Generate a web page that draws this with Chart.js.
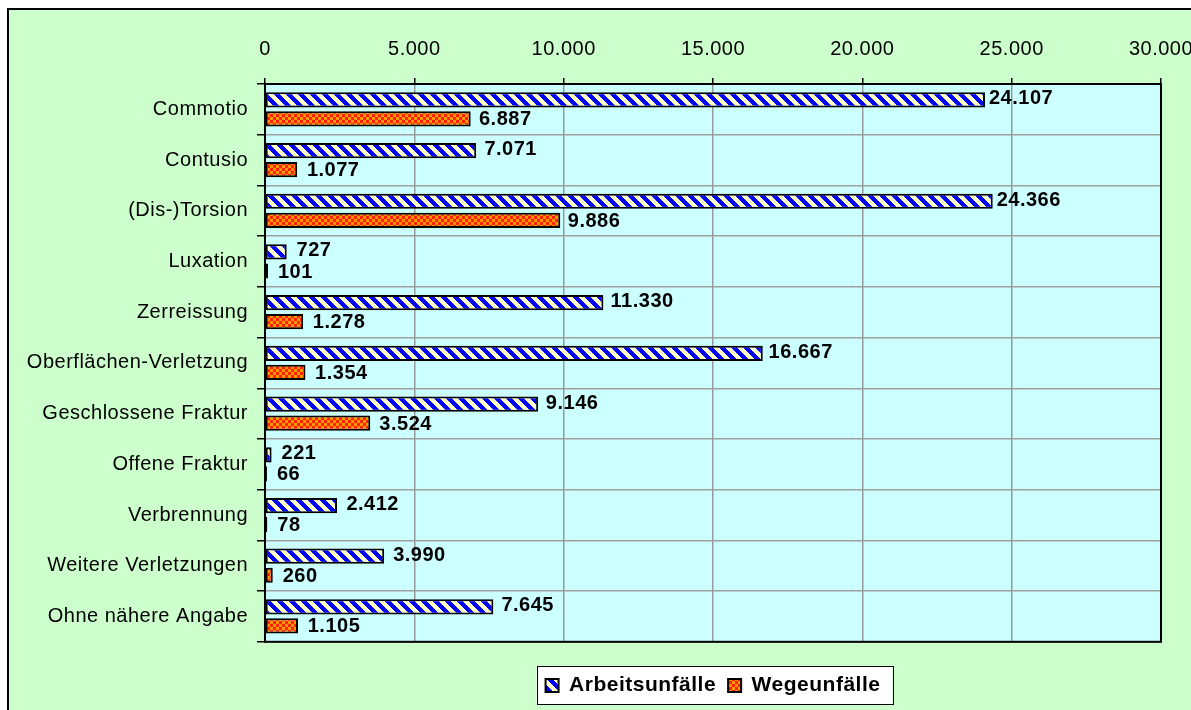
<!DOCTYPE html>
<html>
<head>
<meta charset="utf-8">
<script src="https://cdn.jsdelivr.net/npm/chart.js@4/dist/chart.umd.min.js"></script>
<style>
  html, body { margin: 0; padding: 0; background: #fff; overflow: hidden; }
  .frame {
    position: absolute; left: 7px; top: 8px; width: 1300px; height: 800px;
    background: #CCFFCC; border: 2px solid #000;
  }
  #chart { position: absolute; left: 0; top: 0; }
</style>
</head>
<body>
<div class="frame"></div>
<canvas id="chart" width="1240" height="712"></canvas>
<script>
// Verletzungsarten - Arbeitsunfälle vs. Wegeunfälle
const categories = [
    'Commotio', 'Contusio', '(Dis-)Torsion', 'Luxation', 'Zerreissung',
    'Oberflächen-Verletzung', 'Geschlossene Fraktur', 'Offene Fraktur',
    'Verbrennung', 'Weitere Verletzungen', 'Ohne nähere Angabe'
];
const arbeitsunfaelle = [24107, 7071, 24366, 727, 11330, 16667, 9146, 221, 2412, 3990, 7645];
const wegeunfaelle = [6887, 1077, 9886, 101, 1278, 1354, 3524, 66, 78, 260, 1105];
const seriesNames = ['Arbeitsunfälle', 'Wegeunfälle'];
const axisMin = 0;
const axisMax = 30000;
const axisStep = 5000;

const FONT = 'Arial, "Liberation Sans", sans-serif';

/**
 * German thousands separator
 */
function fmt(n) {
    return String(n).replace(/\B(?=(\d{3})+(?!\d))/g, '.');
}

/**
 * Excel-like fill patterns
 */
function stripePattern() {
    const n = 12;
    const c = document.createElement('canvas');
    c.width = n; c.height = n;
    const g = c.getContext('2d');
    g.fillStyle = '#FFFFCC';
    g.fillRect(0, 0, n, n);
    g.fillStyle = '#0000FF';
    for (let y = 0; y < n; y++) {
        for (let x = 0; x < n; x++) {
            if (((x - y) % n + n) % n < 6) g.fillRect(x, y, 1, 1);
        }
    }
    return g.createPattern(c, 'repeat');
}

function checkPattern() {
    const c = document.createElement('canvas');
    c.width = 6; c.height = 6;
    const g = c.getContext('2d');
    g.fillStyle = '#FF9900';
    g.fillRect(0, 0, 6, 6);
    g.fillStyle = '#FF2200';
    g.fillRect(0, 0, 3, 3);
    g.fillRect(3, 3, 3, 3);
    return g.createPattern(c, 'repeat');
}

// letter spacing like the GDI rendering of the original
const spacingPlugin = {
    id: 'spacing',
    beforeLayout(chart) { chart.ctx.letterSpacing = '0.5px'; },
    beforeDraw(chart) { chart.ctx.letterSpacing = '0.5px'; }
};

// plot background + legend box
const backgroundPlugin = {
    id: 'background',
    beforeDraw(chart) {
        const { ctx, chartArea: a } = chart;
        ctx.save();
        ctx.fillStyle = '#CCFFFF';
        ctx.fillRect(a.left, a.top, a.right - a.left, a.bottom - a.top);

        const boxes = chart.legend.legendHitBoxes;
        if (boxes && boxes.length) {
            const l = Math.min(...boxes.map(b => b.left)) - 9;
            const r = Math.max(...boxes.map(b => b.left + b.width)) + 12;
            const t = Math.min(...boxes.map(b => b.top)) - 9;
            const bt = Math.max(...boxes.map(b => b.top + b.height)) + 8;
            ctx.fillStyle = '#fff';
            ctx.fillRect(l, t, r - l, bt - t);
            ctx.strokeStyle = '#000';
            ctx.lineWidth = 1;
            ctx.strokeRect(Math.round(l) + 0.5, Math.round(t) + 0.5, Math.round(r - l), Math.round(bt - t));
        }
        ctx.restore();
    },
    beforeDatasetsDraw(chart) {
        const { ctx, chartArea: a } = chart;
        ctx.save();
        ctx.strokeStyle = '#000';
        ctx.lineWidth = 2;
        ctx.strokeRect(a.left, a.top, a.right - a.left, a.bottom - a.top);
        ctx.restore();
    }
};

// value labels at the bar ends
const valueLabelPlugin = {
    id: 'valueLabels',
    afterDatasetsDraw(chart) {
        const ctx = chart.ctx;
        ctx.save();
        ctx.font = 'bold 20px ' + FONT;
        ctx.letterSpacing = '0.5px';
        ctx.fillStyle = '#000';
        ctx.textAlign = 'left';
        ctx.textBaseline = 'middle';
        chart.data.datasets.forEach((ds, di) => {
            chart.getDatasetMeta(di).data.forEach((bar, i) => {
                const v = ds.data[i];
                const off = 10 - v / 4000;
                ctx.fillText(fmt(v), bar.x + off, bar.y + (di === 0 ? -1 : 1));
            });
        });
        ctx.restore();
    }
};

const ctx = document.getElementById('chart').getContext('2d');

new Chart(ctx, {
    type: 'bar',
    data: {
        labels: categories,
        datasets: [
            {
                label: seriesNames[0],
                data: arbeitsunfaelle,
                backgroundColor: stripePattern(),
                borderColor: '#000',
                borderWidth: 2,
                borderSkipped: false
            },
            {
                label: seriesNames[1],
                data: wegeunfaelle,
                backgroundColor: checkPattern(),
                borderColor: '#000',
                borderWidth: 2,
                borderSkipped: false
            }
        ]
    },
    options: {
        indexAxis: 'y',
        responsive: false,
        animation: false,
        categoryPercentage: 0.75,
        barPercentage: 0.8,
        layout: {
            padding: { left: 10, right: 79, top: 20, bottom: 6 }
        },
        plugins: {
            tooltip: { enabled: false },
            legend: {
                position: 'bottom',
                fullSize: false,
                // empty title only adds the gap between plot and legend
                title: {
                    display: true,
                    text: '',
                    font: { size: 1 },
                    padding: { top: 20, bottom: 0 }
                },
                labels: {
                    color: '#000',
                    font: { family: FONT, size: 21, weight: 'bold' },
                    boxWidth: 13,
                    boxHeight: 13,
                    padding: 12
                }
            }
        },
        scales: {
            x: {
                position: 'top',
                min: axisMin,
                max: axisMax,
                ticks: {
                    stepSize: axisStep,
                    color: '#000',
                    font: { family: FONT, size: 20 },
                    padding: 17,
                    maxRotation: 0,
                    callback: v => fmt(v)
                },
                grid: {
                    color: '#999999',
                    lineWidth: 1.5,
                    tickColor: '#000',
                    tickLength: 6
                },
                border: { display: false }
            },
            y: {
                ticks: {
                    color: '#000',
                    font: { family: FONT, size: 20 },
                    padding: 9
                },
                grid: {
                    color: '#A0A0A0',
                    lineWidth: 1.5,
                    tickColor: '#000',
                    tickLength: 8
                },
                border: { display: false },
                afterFit(scale) { scale.width = 255; }
            }
        }
    },
    plugins: [spacingPlugin, backgroundPlugin, valueLabelPlugin]
});
</script>
</body>
</html>
